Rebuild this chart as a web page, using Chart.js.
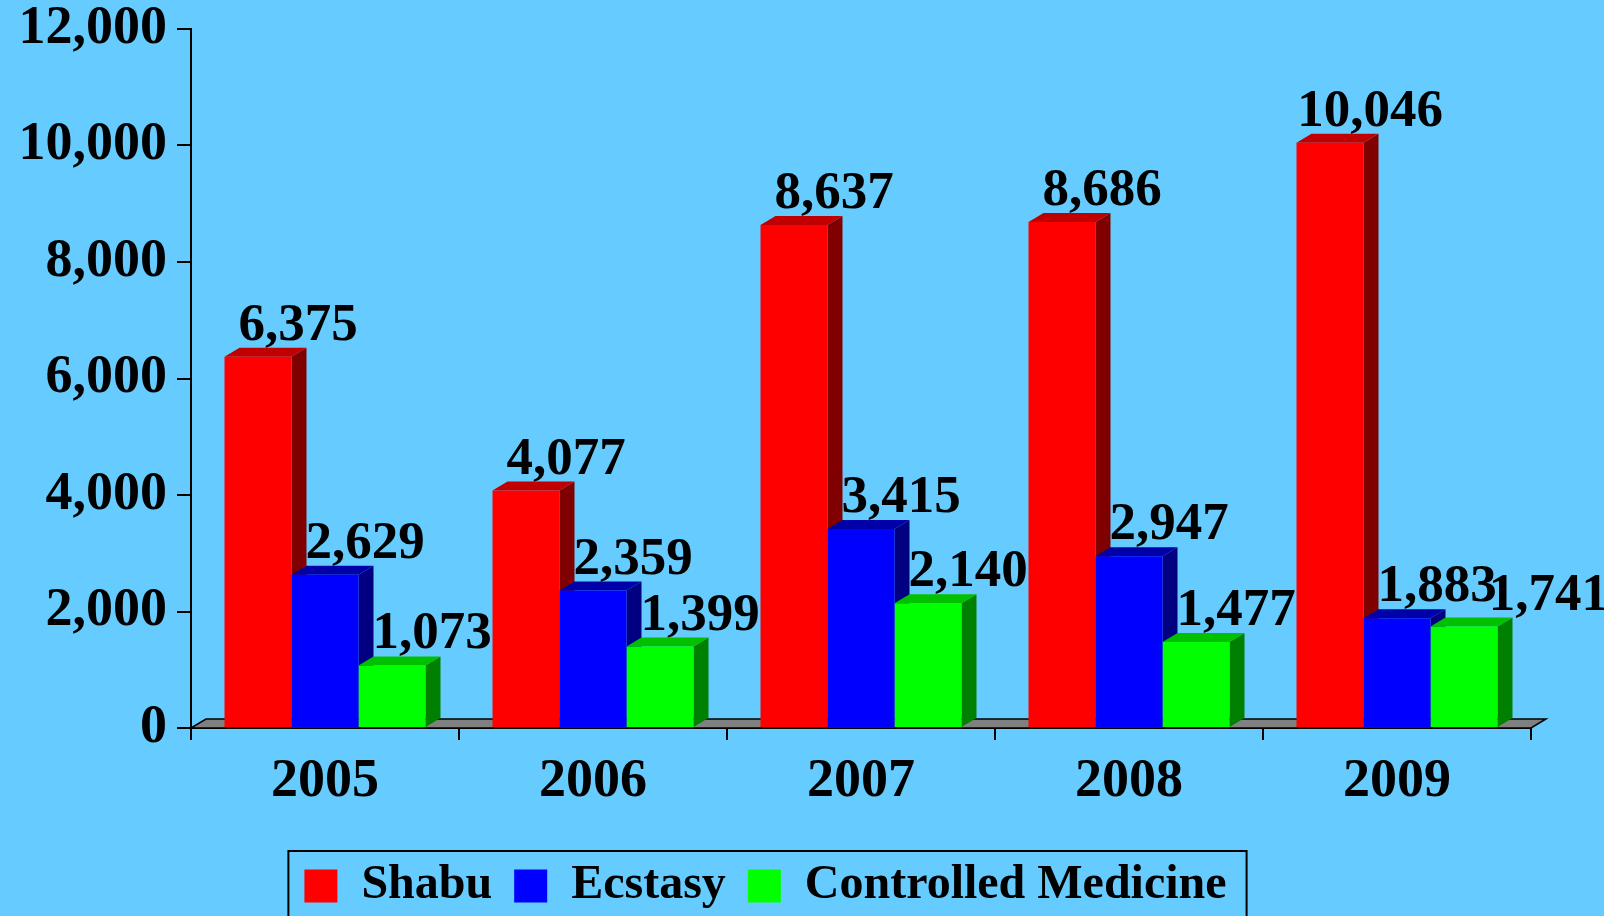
<!DOCTYPE html>
<html>
<head>
<meta charset="utf-8">
<script src="https://cdn.jsdelivr.net/npm/chart.js@4"></script>
<style>
  html, body { margin: 0; padding: 0; background: #66CCFF; }
  canvas { display: block; }
</style>
</head>
<body>
<canvas id="chart" width="1604" height="916"></canvas>
<script>
// data
const years = ['2005', '2006', '2007', '2008', '2009'];
const shabu = [6375, 4077, 8637, 8686, 10046];
const ecstasy = [2629, 2359, 3415, 2947, 1883];
const controlled = [1073, 1399, 2140, 1477, 1741];
const seriesNames = ['Shabu', 'Ecstasy', 'Controlled Medicine'];

const SERIF = '"Liberation Serif", "Times New Roman", serif';
const DX = 15, DY = 9;  // fake 3d depth

const faces = [
    { front: '#FF0000', side: '#800000', top: '#C00000' },
    { front: '#0000FF', side: '#000080', top: '#0000A8' },
    { front: '#00FF00', side: '#008000', top: '#00C000' }
];

function poly(ctx, pts, fill) {
    ctx.beginPath();
    ctx.moveTo(pts[0][0], pts[0][1]);
    for (let i = 1; i < pts.length; i++) ctx.lineTo(pts[i][0], pts[i][1]);
    ctx.closePath();
    ctx.fillStyle = fill;
    ctx.fill();
}

const fmt = v => v.toLocaleString('en-US');

// floor, value labels (behind bars) and the side/top faces
const bars3d = {
    id: 'bars3d',
    beforeDatasetsDraw(chart) {
        const ctx = chart.ctx;
        const a = chart.chartArea;
        ctx.save();
        // floor
        ctx.beginPath();
        ctx.moveTo(a.left, a.bottom);
        ctx.lineTo(a.left + DX, a.bottom - DY);
        ctx.lineTo(a.right + DX, a.bottom - DY);
        ctx.lineTo(a.right, a.bottom);
        ctx.closePath();
        ctx.fillStyle = '#808080';
        ctx.fill();
        ctx.strokeStyle = '#000';
        ctx.lineWidth = 1.5;
        ctx.stroke();

        // labels, nudged right if they would run into the previous one
        ctx.font = 'bold 53px ' + SERIF;
        ctx.fillStyle = '#000';
        ctx.textAlign = 'left';
        ctx.textBaseline = 'alphabetic';
        const n = chart.data.labels.length;
        for (let i = 0; i < n; i++) {
            let prev = null;
            chart.data.datasets.forEach((ds, di) => {
                const bar = chart.getDatasetMeta(di).data[i];
                const txt = fmt(ds.data[i]);
                const w = ctx.measureText(txt).width;
                let x = bar.x + 40 - w / 2;
                const y = bar.y - 17;
                if (prev && Math.abs(prev.y - y) < 36 && x < prev.right) x = prev.right - 8;
                ctx.fillText(txt, x, y);
                prev = { right: x + w, y: y };
            });
        }

        // side + top faces, category by category
        for (let i = 0; i < n; i++) {
            chart.data.datasets.forEach((ds, di) => {
                const bar = chart.getDatasetMeta(di).data[i];
                const L = bar.x - bar.width / 2, R = bar.x + bar.width / 2;
                const c = faces[di];
                poly(ctx, [[R, bar.y], [R + DX, bar.y - DY], [R + DX, bar.base - DY], [R, bar.base]], c.side);
                poly(ctx, [[L, bar.y], [L + DX, bar.y - DY], [R + DX, bar.y - DY], [R, bar.y]], c.top);
            });
        }
        ctx.restore();
    },
    afterDraw(chart) {
        // box round the legend
        const lg = chart.legend;
        if (!lg || !lg.legendHitBoxes.length) return;
        const hb = lg.legendHitBoxes;
        const left = hb[0].left - 16;
        const right = hb[hb.length - 1].left + hb[hb.length - 1].width + 20;
        const cy = hb[0].top + hb[0].height / 2;
        const ctx = chart.ctx;
        ctx.save();
        ctx.strokeStyle = '#000';
        ctx.lineWidth = 2;
        ctx.strokeRect(left, cy - 35, right - left, 200);
        ctx.restore();
    }
};

const ctx = document.getElementById('chart').getContext('2d');

const chart = new Chart(ctx, {
    type: 'bar',
    data: {
        labels: years,
        datasets: [
            { label: seriesNames[0], data: shabu, backgroundColor: faces[0].front },
            { label: seriesNames[1], data: ecstasy, backgroundColor: faces[1].front },
            { label: seriesNames[2], data: controlled, backgroundColor: faces[2].front }
        ]
    },
    options: {
        responsive: false,
        animation: false,
        layout: { padding: { top: 29, right: 73, left: 0, bottom: -4 } },
        datasets: {
            bar: { categoryPercentage: 0.75, barPercentage: 1.0, borderWidth: 0 }
        },
        scales: {
            x: {
                afterFit(s) { s.height = 112; },
                grid: { drawOnChartArea: false, tickLength: 12, color: '#000', lineWidth: 2 },
                border: { color: '#000', width: 2 },
                ticks: { color: '#000', padding: 10, font: { family: SERIF, size: 54, weight: 'bold' } }
            },
            y: {
                min: 0,
                max: 12000,
                afterFit(s) { s.width = 191; },
                grid: { drawOnChartArea: false, tickLength: 14, color: '#000', lineWidth: 2 },
                border: { color: '#000', width: 2 },
                ticks: {
                    stepSize: 2000,
                    color: '#000',
                    padding: 10,
                    font: { family: SERIF, size: 54, weight: 'bold', lineHeight: 0.6 },
                    callback: v => fmt(v)
                }
            }
        },
        plugins: {
            legend: {
                position: 'bottom',
                labels: {
                    color: '#000',
                    boxWidth: 33,
                    boxHeight: 33,
                    padding: 22,
                    font: { family: SERIF, size: 48, weight: 'bold' }
                }
            },
            tooltip: { enabled: false }
        }
    },
    plugins: [bars3d]
});
</script>
</body>
</html>
